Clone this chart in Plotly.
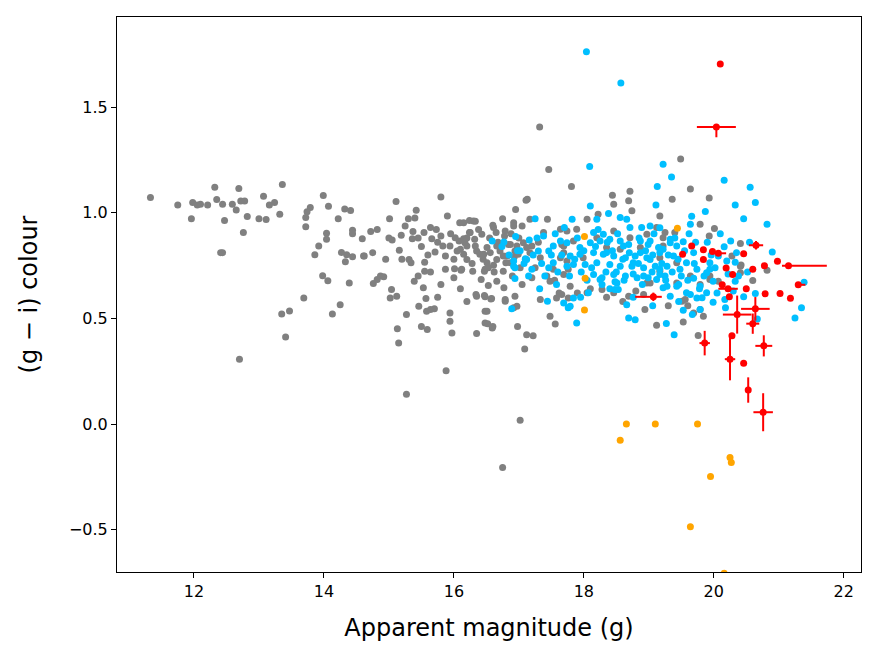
import plotly.graph_objects as go

# grey sample: apparent g magnitude and (g - i) colour
grey_g = [11.33, 11.75, 11.98, 12.05, 12.10, 12.21, 11.96, 12.32, 12.35, 12.44, 12.41, 12.44, 12.47, 12.59,
          12.65, 12.69, 12.72, 12.78, 12.76, 12.82, 12.70, 13.00, 13.11, 13.07, 13.16, 13.24, 13.32, 13.36,
          13.35, 13.47, 13.41, 13.69, 13.72, 13.72, 13.74, 13.79, 13.99, 14.07, 14.22, 14.32, 14.41, 14.04,
          14.04, 13.92, 13.86, 14.27, 14.35, 14.44, 14.33, 14.44, 14.44, 14.59, 14.62, 13.98, 14.06, 14.39,
          14.25, 14.13,
          15.80, 15.11, 15.42, 15.01, 15.30, 15.90, 15.40, 16.09, 16.24, 16.33, 16.75, 17.11, 16.95, 16.92,
          15.25, 14.72, 14.82, 15.05, 15.19, 15.37, 15.36, 15.54, 15.64, 15.73, 15.66, 15.80, 15.83, 16.02,
          16.08, 16.15, 16.24, 16.32, 16.43, 16.61, 16.65, 16.78, 16.84, 16.97, 16.05, 15.94, 15.71, 15.87,
          16.20, 16.15, 16.35, 16.46, 16.51, 16.71, 16.82, 16.94, 17.12, 17.10, 14.61, 14.75, 15.16, 15.31,
          15.34, 15.55, 15.55, 15.64, 15.87, 16.01, 16.11, 16.00, 16.29, 16.47, 16.53, 16.61, 16.42, 16.53,
          16.76, 16.77, 16.93, 16.80, 17.02, 14.87, 14.92, 14.82, 14.76, 15.39, 15.53, 15.04, 15.02, 15.12,
          15.57, 15.46, 15.58, 15.64, 15.70, 15.27, 15.94, 15.94, 15.50, 15.59, 15.13, 15.15, 15.97, 16.35,
          16.47, 16.58, 16.51, 16.48, 16.60, 16.35, 16.94, 16.97, 16.79, 16.98, 17.09, 15.88, 17.12,
          15.27, 17.02, 16.75, 17.22, 16.52, 16.59, 17.56,
          17.32, 17.46, 17.81, 17.13, 18.44, 18.71,
          16.15, 16.30, 16.60, 16.92, 17.05, 17.17, 17.44, 16.25, 16.79, 17.38, 17.64, 16.17, 16.33, 16.66,
          16.87, 17.07, 17.20, 16.10, 16.40, 16.56, 16.76, 16.99, 17.17, 17.33, 17.64, 17.69, 16.20, 16.51,
          16.66, 16.87, 16.12, 16.48, 17.20, 17.43, 17.53, 17.76, 16.66, 17.48, 16.34, 16.48, 16.57, 16.79,
          16.92, 16.48, 17.33, 17.58, 17.48, 17.76,
          19.64, 19.36, 19.12, 19.53, 19.69, 19.76, 19.49, 19.93, 19.79, 20.01,
          18.69, 18.74, 19.17, 18.05, 18.22, 18.46, 17.74, 17.89, 17.66, 17.69, 18.20, 18.46, 18.71, 18.97,
          19.12, 19.22, 17.84, 18.35, 18.56, 18.87, 19.17, 17.74, 17.99, 17.69, 17.79, 18.05, 18.46, 18.69,
          18.97, 17.66, 19.17, 18.92,
          18.94, 19.51, 19.79, 19.84, 19.43, 19.64, 19.94, 18.28, 19.02,
          19.93, 19.40, 19.25, 19.22, 19.43, 19.79, 19.56, 20.07, 20.28, 20.41, 19.94, 20.60, 20.82, 20.41,
          20.42, 20.41,
          16.20, 16.38, 16.55, 16.68, 16.88, 17.00, 16.28, 16.45, 16.62, 16.90, 17.05, 17.25, 17.30, 17.55,
          17.62, 17.90, 18.10, 18.35, 18.60, 18.80, 19.30, 19.60, 15.50, 15.60, 15.75, 15.95, 16.00, 15.20,
          15.45, 15.80, 16.10, 16.20, 15.75, 14.95, 15.00, 15.45]
grey_c = [1.072, 1.036, 1.048, 1.036, 1.040, 1.036, 0.972, 1.120, 1.063, 1.040, 0.811, 0.811, 0.963, 1.040,
          1.013, 1.115, 1.055, 1.055, 0.906, 0.982, 0.307, 0.972, 0.968, 1.078, 1.036, 1.048, 0.993, 1.134,
          0.521, 0.535, 0.412, 0.597, 0.934, 0.977, 1.004, 1.025, 1.082, 1.031, 0.972, 1.017, 1.010, 0.903,
          0.874, 0.842, 0.801, 0.812, 0.801, 0.792, 0.768, 0.917, 0.901, 0.877, 0.795, 0.702, 0.678, 0.668,
          0.564, 0.521,
          1.074, 1.053, 1.012, 0.972, 0.972, 0.985, 0.975, 0.952, 0.963, 0.960, 0.972, 1.059, 1.015, 0.953,
          0.937, 0.911, 0.921, 0.871, 0.893, 0.911, 0.877, 0.906, 0.930, 0.921, 0.877, 0.890, 0.842, 0.882,
          0.866, 0.877, 0.906, 0.874, 0.898, 0.930, 0.906, 0.890, 0.850, 0.842, 0.819, 0.842, 0.814, 0.795,
          0.842, 0.803, 0.819, 0.803, 0.835, 0.819, 0.795, 0.819, 0.835, 0.779, 0.795, 0.811, 0.822, 0.779,
          0.763, 0.766, 0.723, 0.719, 0.732, 0.735, 0.728, 0.692, 0.723, 0.723, 0.740, 0.751, 0.684, 0.656,
          0.723, 0.645, 0.792, 0.763, 0.740, 0.700, 0.697, 0.684, 0.665, 0.676, 0.645, 0.637, 0.597, 0.605,
          0.594, 0.557, 0.534, 0.542, 0.545, 0.518, 0.526, 0.486, 0.462, 0.447, 0.451, 0.383, 0.431, 0.605,
          0.608, 0.594, 0.534, 0.478, 0.462, 0.428, 0.605, 0.557, 0.581, 0.462, 0.355, 0.252, 0.423,
          0.141, 0.018, -0.206, 0.418, 0.475, 0.455, 0.474,
          1.405, 1.205, 1.124, 1.064, 1.083, 1.101,
          0.953, 0.961, 0.941, 0.937, 0.937, 0.969, 0.969, 0.906, 0.914, 0.906, 0.922, 0.858, 0.842, 0.842,
          0.850, 0.858, 0.842, 0.827, 0.803, 0.811, 0.795, 0.803, 0.811, 0.787, 0.787, 0.842, 0.779, 0.763,
          0.779, 0.763, 0.732, 0.732, 0.692, 0.700, 0.732, 0.732, 0.676, 0.676, 0.613, 0.602, 0.592, 0.589,
          0.550, 0.534, 0.589, 0.597, 0.510, 0.597,
          1.112, 1.064, 0.467, 0.483, 0.526, 0.419, 1.254, 1.070, 0.945, 0.925,
          1.056, 1.009, 0.985, 0.969, 0.993, 1.040, 0.914, 0.922, 0.850, 0.811, 0.882, 0.914, 0.882, 0.898,
          0.930, 0.882, 0.866, 0.835, 0.827, 0.835, 0.787, 0.771, 0.787, 0.708, 0.652, 0.621, 0.621, 0.605,
          0.668, 0.613, 0.723, 0.613,
          0.542, 0.581, 0.542, 0.510, 0.668, 0.700, 0.684, 0.637, 0.668,
          0.890, 0.906, 0.906, 0.842, 0.763, 0.660, 0.589, 0.676, 0.795, 0.747, 0.700, 0.679, 0.728, 0.716,
          0.752, 0.854,
          0.880, 0.920, 0.880, 0.860, 0.900, 0.880, 0.760, 0.780, 0.720, 0.700, 0.660, 0.740, 0.860, 0.680,
          0.620, 0.620, 0.640, 0.600, 0.580, 0.630, 0.560, 0.560, 0.840, 0.800, 0.860, 0.900, 0.780, 0.780,
          0.700, 0.660, 0.640, 0.580, 0.600, 0.780, 0.880, 0.880]

# blue sample
blue_g = [18.04, 18.57, 18.09, 19.22, 19.35, 20.16, 20.56, 20.64, 20.33, 20.46, 20.82, 19.87, 19.66, 19.13,
          19.11, 20.90, 21.39, 21.35, 21.25, 20.64, 20.67, 19.39, 19.27, 19.67, 20.18, 20.46, 19.99, 19.79,
          19.53, 20.26, 20.16, 20.33,
          16.59, 16.77, 16.95, 17.16, 16.92, 16.94, 16.94, 17.10, 16.89,
          17.25, 17.38, 17.53, 17.64, 17.30, 17.46, 17.12, 16.92, 17.20, 17.46, 17.53, 17.74, 17.44, 17.69,
          17.76, 17.79, 17.89, 18.07, 18.25,
          18.10, 18.38, 18.56, 18.66, 17.82, 18.20, 18.71, 18.89, 19.02, 18.15, 18.30, 17.74, 17.94, 18.10,
          18.25, 18.40, 18.56, 18.69, 18.87, 19.02, 19.15, 17.79, 17.94, 18.15, 18.30, 18.46, 18.64, 18.79,
          18.97, 17.84, 18.02, 18.20, 18.40, 18.56, 18.74, 18.92, 19.10, 18.15, 18.46, 18.64, 18.82, 18.99,
          19.17, 18.28, 18.28, 18.48, 18.53, 17.84, 19.12, 19.22,
          18.66, 18.69, 18.79, 19.33, 19.74, 18.51, 18.48, 19.43, 19.58, 19.89, 19.79, 18.92, 19.28, 19.58,
          19.74, 19.94, 18.76, 19.02, 18.35, 18.87, 19.22, 19.43, 19.33, 18.61, 18.99,
          19.64, 19.17, 19.33, 19.53, 20.35, 20.07, 20.20, 19.94, 19.89, 19.69, 19.99, 20.33, 20.30, 20.17,
          19.82, 19.64, 19.46, 19.28, 19.25, 19.17, 19.48, 19.69, 19.17, 19.38,
          17.02, 17.08, 17.15, 17.22, 17.28, 17.35, 17.40, 17.50, 17.56, 17.60, 17.66, 17.70, 17.78, 17.86,
          17.90, 17.96, 18.00, 18.05, 18.12, 18.18, 18.22, 18.34, 18.36, 18.44, 18.50, 18.52, 18.60, 18.62,
          18.70, 18.76, 18.84, 18.85, 18.90, 18.95, 19.05, 19.06, 19.08, 19.20, 19.26, 19.30, 19.36, 19.40,
          19.45, 19.50, 19.55, 19.60, 19.62, 19.70, 19.72, 19.78, 19.85, 19.90, 19.96, 20.02, 20.05, 20.10,
          20.22, 20.38, 20.52, 20.55, 17.32, 17.58, 17.95, 18.40, 18.76, 19.06, 19.46, 16.98, 16.85, 16.74]
blue_c = [1.761, 1.614, 1.219, 1.229, 1.169, 1.153, 1.120, 1.048, 1.036, 0.972, 0.945, 1.006, 0.983, 1.124,
          1.036, 0.814, 0.671, 0.550, 0.502, 0.618, 0.497, 0.423, 0.476, 0.518, 0.550, 0.602, 0.576, 0.542,
          0.538, 0.866, 0.839, 0.766,
          0.866, 0.861, 0.887, 0.871, 0.771, 0.740, 0.689, 0.782, 0.546,
          0.972, 0.890, 0.842, 0.866, 0.819, 0.819, 0.779, 0.747, 0.732, 0.740, 0.763, 0.747, 0.581, 0.573,
          0.550, 0.557, 0.478, 0.621, 0.684,
          1.032, 0.996, 0.977, 0.969, 0.969, 0.969, 0.930, 0.930, 0.937, 0.906, 0.898, 0.858, 0.835, 0.858,
          0.866, 0.874, 0.866, 0.850, 0.866, 0.866, 0.835, 0.795, 0.803, 0.811, 0.803, 0.795, 0.787, 0.795,
          0.787, 0.755, 0.755, 0.763, 0.755, 0.747, 0.747, 0.740, 0.747, 0.708, 0.708, 0.700, 0.692, 0.692,
          0.708, 0.692, 0.660, 0.673, 0.637, 0.597, 0.684, 0.645,
          0.565, 0.502, 0.494, 0.605, 0.597, 0.668, 0.637, 0.652, 0.621, 0.621, 0.652, 0.700, 0.747, 0.763,
          0.732, 0.732, 0.763, 0.779, 0.811, 0.811, 0.827, 0.842, 0.858, 0.842, 0.850,
          0.945, 0.929, 0.874, 0.862, 0.811, 0.795, 0.771, 0.763, 0.716, 0.690, 0.676, 0.676, 0.629, 0.589,
          0.598, 0.613, 0.660, 0.652, 0.700, 0.732, 0.732, 0.811, 0.811, 0.795,
          0.820, 0.760, 0.700, 0.800, 0.880, 0.760, 0.700, 0.800, 0.900, 0.720, 0.800, 0.930, 0.700, 0.780,
          0.880, 0.720, 0.820, 0.680, 0.740, 0.840, 0.920, 0.720, 0.860, 0.820, 0.720, 0.900, 0.780, 0.680,
          0.810, 0.710, 0.760, 0.880, 0.660, 0.820, 0.720, 0.800, 0.900, 0.760, 0.680, 0.800, 0.720, 0.880,
          0.780, 0.700, 0.820, 0.680, 0.900, 0.760, 0.860, 0.640, 0.700, 0.860, 0.800, 0.740, 0.620, 0.900,
          0.710, 0.700, 0.720, 0.860, 0.640, 0.660, 0.600, 0.640, 0.600, 0.560, 0.580, 0.820, 0.800, 0.840]

# orange sample
orange_g = [18.655, 19.10, 19.75, 18.56, 20.25, 20.27, 19.95, 19.64, 20.16, 18.01, 18.02, 18.01, 19.44]
orange_c = [0.0, 0.0, 0.0, -0.077, -0.158, -0.182, -0.248, -0.486, -0.706, 0.888, 0.690, 0.540, 0.926]

# red sample with errors
red_g = [20.10, 20.04, 20.65, 19.66, 19.52, 19.84, 19.84, 19.98, 20.07, 20.46, 20.98, 21.15, 20.78, 20.19,
         20.60, 20.29, 20.13, 20.22, 20.24, 20.50, 20.79, 21.02, 21.18, 21.30, 20.64, 20.36, 20.60, 20.28,
         20.25, 19.86, 20.77, 20.46, 20.53, 20.76, 19.07]
red_c = [1.704, 1.405, 0.846, 0.842, 0.804, 0.825, 0.779, 0.816, 0.808, 0.806, 0.770, 0.749, 0.749, 0.738,
         0.732, 0.708, 0.659, 0.640, 0.602, 0.640, 0.616, 0.618, 0.595, 0.659, 0.545, 0.518, 0.475, 0.418,
         0.307, 0.383, 0.370, 0.288, 0.161, 0.056, 0.602]
red_g_lo = [0, 0.30, 0.11, 0, 0, 0, 0, 0, 0, 0, 0, 0.10, 0, 0, 0, 0, 0, 0.15, 0, 0, 0, 0, 0, 0,
            0.22, 0.22, 0.10, 0, 0.08, 0.08, 0.13, 0, 0, 0.15, 0.28]
red_g_hi = [0, 0.30, 0.11, 0, 0, 0, 0, 0, 0.12, 0, 0, 0.59, 0, 0, 0, 0, 0, 0.15, 0, 0, 0, 0, 0, 0.11,
            0.22, 0.22, 0.10, 0, 0.08, 0.08, 0.13, 0, 0, 0.15, 0.13]
red_c_lo = [0, 0.048, 0.02, 0, 0, 0, 0, 0, 0, 0, 0, 0, 0, 0, 0, 0, 0, 0.01, 0, 0, 0, 0, 0, 0,
            0.056, 0.09, 0.048, 0, 0.10, 0.058, 0.05, 0, 0.06, 0.09, 0.02]
red_c_hi = [0, 0.0, 0.02, 0, 0, 0, 0, 0, 0, 0, 0, 0, 0, 0, 0, 0, 0, 0.01, 0, 0, 0, 0, 0, 0,
            0.056, 0.09, 0.048, 0, 0.10, 0.058, 0.05, 0, 0.06, 0.09, 0.02]

fig = go.Figure()
fig.add_trace(go.Scatter(x=grey_g, y=grey_c, mode='markers',
                         marker=dict(color='#808080', size=7)))
fig.add_trace(go.Scatter(x=blue_g, y=blue_c, mode='markers',
                         marker=dict(color='#00bfff', size=7)))
fig.add_trace(go.Scatter(x=orange_g, y=orange_c, mode='markers',
                         marker=dict(color='#ffa500', size=7)))
fig.add_trace(go.Scatter(x=red_g, y=red_c, mode='markers',
                         marker=dict(color='red', size=7),
                         error_x=dict(type='data', symmetric=False, array=red_g_hi, arrayminus=red_g_lo,
                                      color='red', thickness=2, width=0),
                         error_y=dict(type='data', symmetric=False, array=red_c_hi, arrayminus=red_c_lo,
                                      color='red', thickness=2, width=0)))

axis_style = dict(showgrid=False, zeroline=False, showline=True, linecolor='black', linewidth=1,
                  mirror=True, ticks='outside', ticklen=5, tickwidth=1, tickcolor='black',
                  tickfont=dict(size=16, color='black'))

# page body adds an 8px offset, margins are set to land the plot box where the reference has it
fig.update_layout(
    width=879, height=658,
    margin=dict(l=109, r=26, t=9, b=94),
    plot_bgcolor='white', paper_bgcolor='white',
    font=dict(family='DejaVu Sans', color='black'),
    showlegend=False,
    xaxis=dict(range=[10.815, 22.266], tickvals=[12, 14, 16, 18, 20, 22],
               title=dict(text='Apparent magnitude (g)', font=dict(size=24), standoff=18), **axis_style),
    yaxis=dict(range=[-0.700, 1.926], tickvals=[-0.5, 0.0, 0.5, 1.0, 1.5], tickformat='.1f',
               title=dict(text='(g \u2212 i) colour', font=dict(size=24), standoff=24), **axis_style),
)

fig.write_html("out.html")
